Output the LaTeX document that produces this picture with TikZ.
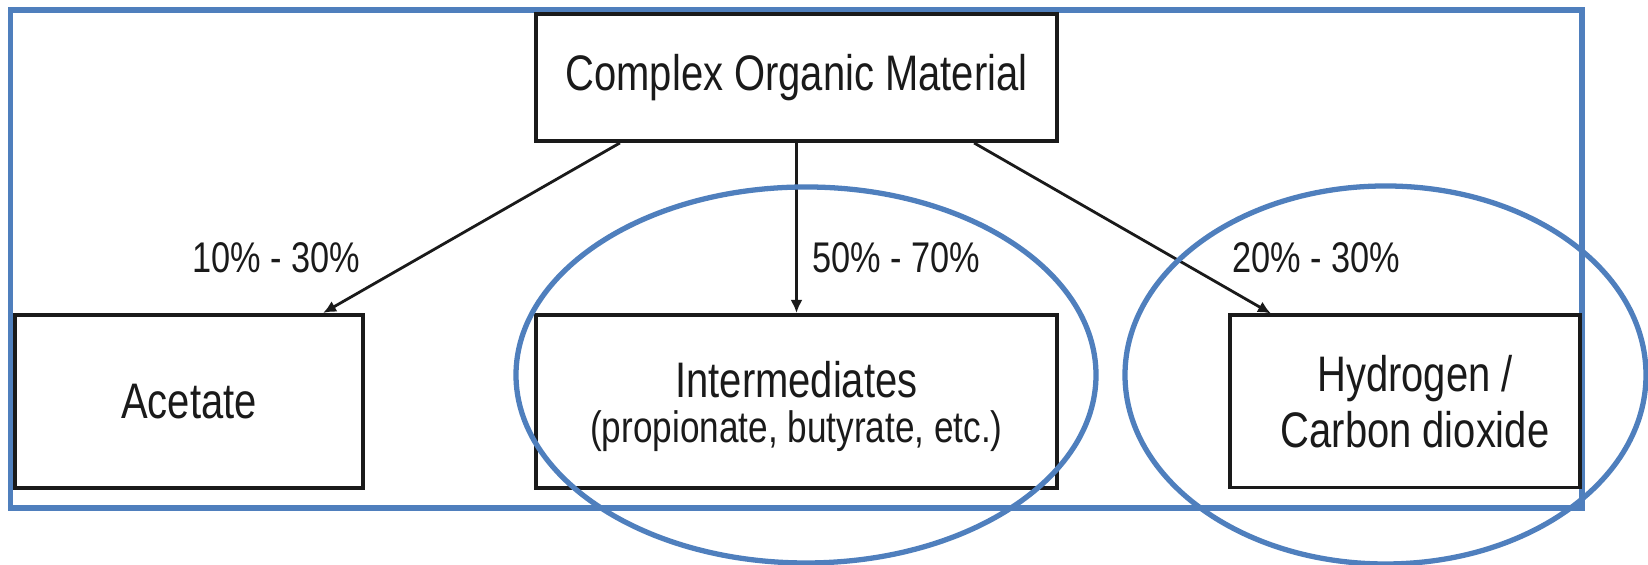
\documentclass[tikz,border=0pt]{standalone}
\usepackage{fontspec}
\setmainfont{Liberation Sans}[FakeStretch=0.8]
\usetikzlibrary{arrows.meta}
\definecolor{ink}{HTML}{1A1A1A}
\definecolor{ringblue}{HTML}{4F7FBD}

\begin{document}
\begin{tikzpicture}[x=0.01cm,y=0.01cm,
  stage/.style={draw=ink, fill=white, line width=1.1pt, text=ink, align=center, inner sep=0pt,
    font=\fontsize{14.2}{15.9}\selectfont},
  flow/.style={-{Latex[length=1.3mm,width=1.2mm]}, line width=0.8pt, draw=ink},
  share/.style={text=ink, inner sep=0pt, font=\fontsize{12.2}{14}\selectfont},
  ring/.style={draw=ringblue, line width=1.5pt}]
\useasboundingbox (0,0) rectangle (1648,565);
\draw[ring] (10.5,555) rectangle (1582,57);

\node[stage, minimum width=5.21cm, minimum height=1.27cm] (organic) at (796.5,487.5) {Complex Organic Material};
\node[stage, minimum width=3.48cm, minimum height=1.73cm] (acetate) at (189,163.5) {Acetate};
\node[stage, minimum width=5.21cm, minimum height=1.73cm] (inter) at (796.5,163.5)
  {\rule{0pt}{13.2pt}Intermediates\\[-3.3pt]{\fontsize{12.5}{14}\selectfont(propionate, butyrate, etc.)}};
\node[stage, minimum width=3.50cm, minimum height=1.72cm] (hydro) at (1405,163.5)
  {\hspace*{0.2cm}Hydrogen /\\\hspace*{0.2cm}Carbon dioxide};

\draw[flow] ([xshift=-1.765cm]organic.south) -- ([xshift=1.34cm]acetate.north);
\draw[flow] (organic.south) -- (inter.north);
\draw[flow] ([xshift=1.775cm]organic.south) -- ([xshift=-1.34cm]hydro.north);

\node[share] (lowshare) at (276,307) {10\% - 30\%};
\node[share] (midshare) at (896,307) {50\% - 70\%};
\node[share] (gasshare) at (1316,307) {20\% - 30\%};

\draw[ring] (806,190) ellipse [x radius=290, y radius=188];
\draw[ring] (1385.5,190) ellipse [x radius=260.5, y radius=189];
\end{tikzpicture}
\end{document}
